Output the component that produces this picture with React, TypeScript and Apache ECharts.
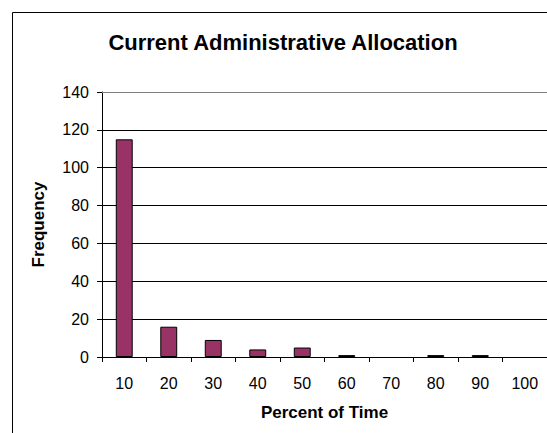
import React, { useEffect, useRef } from "react";
import * as echarts from "echarts";

const categories = ["10", "20", "30", "40", "50", "60", "70", "80", "90", "100"];
const frequency = [115, 16, 9, 4, 5, 1, 0, 1, 1, 0];
const titleText = "Current Administrative Allocation";
const xName = "Percent of Time";
const yName = "Frequency";

const FONT = "'Liberation Sans', Arial, sans-serif";

export default function App() {
  const ref = useRef<HTMLDivElement>(null);
  useEffect(() => {
    if (!ref.current) return;
    const chart = echarts.init(ref.current, null, { renderer: "svg" });
    chart.setOption({
      animation: false,
      backgroundColor: "#ffffff",
      title: {
        text: titleText,
        left: 278,
        textAlign: "center",
        top: 26,
        textStyle: { fontFamily: FONT, fontSize: 22, fontWeight: "bold", color: "#000" },
      },
      graphic: [
        {
          type: "rect",
          shape: { x: 12.5, y: 12.5, width: 700, height: 600 },
          style: { fill: "none", stroke: "#000", lineWidth: 1 },
          z: 10,
        },
      ],
      grid: { left: 102, top: 92, width: 445, height: 265 },
      xAxis: [
        {
          type: "category",
          data: categories,
          name: xName,
          nameLocation: "middle",
          nameGap: 47,
          nameTextStyle: { fontFamily: FONT, fontSize: 17, fontWeight: "bold", color: "#000" },
          axisLine: { lineStyle: { color: "#000", width: 1 } },
          axisTick: { show: true, alignWithLabel: false, length: 5, lineStyle: { color: "#000" } },
          axisLabel: { fontFamily: FONT, fontSize: 16, color: "#000", margin: 18 },
        },
        {
          type: "category",
          data: categories,
          position: "top",
          axisLine: { show: true, lineStyle: { color: "#808080", width: 1 } },
          axisTick: { show: false },
          axisLabel: { show: false },
        },
      ],
      yAxis: {
        type: "value",
        min: 0,
        max: 140,
        interval: 20,
        name: yName,
        nameLocation: "middle",
        nameGap: 55,
        nameRotate: 90,
        nameTextStyle: { fontFamily: FONT, fontSize: 17, fontWeight: "bold", color: "#000" },
        axisLine: { show: true, lineStyle: { color: "#000", width: 1 } },
        axisTick: { show: true, length: 5, lineStyle: { color: "#000" } },
        axisLabel: { fontFamily: FONT, fontSize: 16, color: "#000", margin: 13 },
        splitLine: { show: true, lineStyle: { color: "#000", width: 1 } },
      },
      series: [
        {
          type: "bar",
          data: frequency.map((v) => ({
            value: v,
            itemStyle: v === 0 ? { borderWidth: 0, opacity: 0 } : undefined,
          })),
          barWidth: "38%",
          itemStyle: { color: "#993366", borderColor: "#000", borderWidth: 1 },
          z: 3,
        },
      ],
    });
    return () => chart.dispose();
  }, []);
  return (
    <div
      ref={ref}
      style={{ position: "absolute", left: 0, top: 0, width: 547, height: 433 }}
    />
  );
}
